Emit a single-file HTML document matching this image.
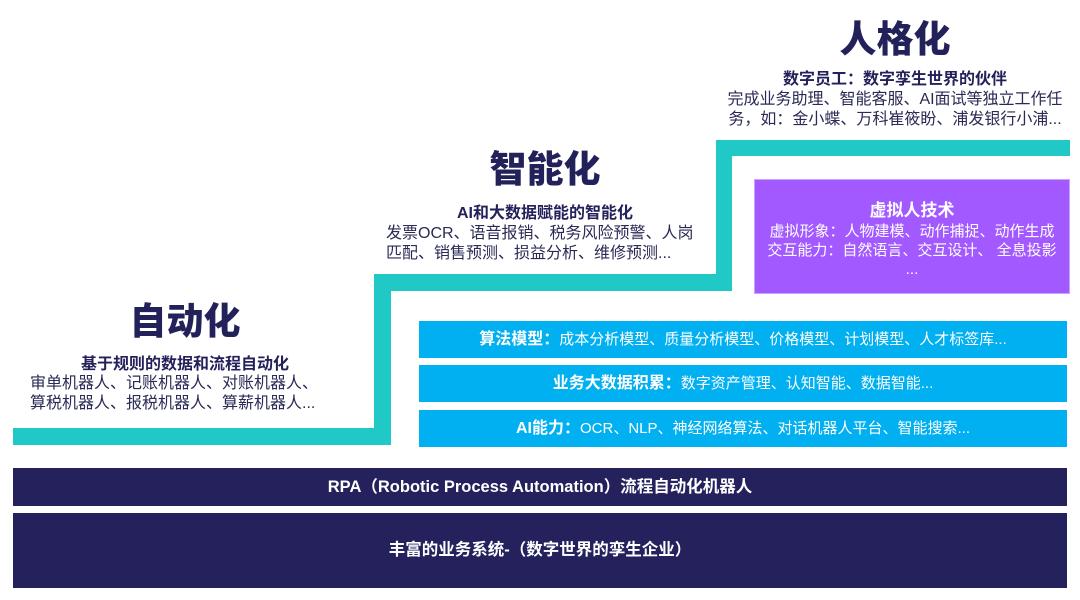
<!DOCTYPE html>
<html><head><meta charset="utf-8"><style>
body{margin:0;width:1080px;height:600px;background:#fff;position:relative;overflow:hidden;font-family:"Liberation Sans","Noto Sans CJK SC",sans-serif;color:#2a2a55}
div{position:absolute;box-sizing:border-box}
.t{background:#20c8c6}
.h{font-weight:900;color:#23215a;font-size:37px;text-align:center;line-height:40px}
.s{font-weight:700;color:#23215a;font-size:16px;text-align:center;line-height:20px}
.d{font-size:16px;color:#2a2a55;line-height:20px;text-align:center;white-space:nowrap}
.b{background:#00b0f0;color:#fff;font-size:15px;text-align:center;line-height:37px;left:419px;width:648px;height:37px}
.b b{font-size:16px}
.k{background:#24215c;color:#fff;font-weight:700;font-size:16.5px;text-align:center;left:13px;width:1054px}
</style></head><body>
<div class="t" style="left:13px;top:428px;width:378px;height:17px"></div>
<div class="t" style="left:374px;top:274px;width:17px;height:171px"></div>
<div class="t" style="left:374px;top:274px;width:358px;height:17px"></div>
<div class="t" style="left:716px;top:140px;width:16px;height:151px"></div>
<div class="t" style="left:716px;top:140px;width:354px;height:16px"></div>

<div class="h" style="left:60px;top:302px;width:250px">自动化</div>
<div class="s" style="left:30px;top:355px;width:310px">基于规则的数据和流程自动化</div>
<div class="d" style="left:30px;top:374px;width:300px;text-align:left">审单机器人、记账机器人、对账机器人、<br>算税机器人、报税机器人、算薪机器人...</div>

<div class="h" style="left:420px;top:150px;width:250px">智能化</div>
<div class="s" style="left:390px;top:204px;width:310px">AI和大数据赋能的智能化</div>
<div class="d" style="left:386px;top:224px;width:330px;text-align:left">发票OCR、语音报销、税务风险预警、人岗<br>匹配、销售预测、损益分析、维修预测...</div>

<div class="h" style="left:770px;top:20px;width:250px">人格化</div>
<div class="s" style="left:740px;top:70px;width:310px">数字员工：数字孪生世界的伙伴</div>
<div class="d" style="left:720px;top:90px;width:350px">完成业务助理、智能客服、AI面试等独立工作任<br>务，如：金小蝶、万科崔筱盼、浦发银行小浦...</div>

<div style="left:754px;top:179px;width:316px;height:115px;background:#a259ff;border:1px solid #c9a3ff;color:#fff;text-align:center">
<div style="position:static;font-weight:700;font-size:17px;margin-top:20px;line-height:22px">虚拟人技术</div>
<div style="position:static;font-size:15px;line-height:19px;white-space:nowrap">虚拟形象：人物建模、动作捕捉、动作生成<br>交互能力：自然语言、交互设计、 全息投影<br>...</div></div>

<div class="b" style="top:321px"><b>算法模型：</b>成本分析模型、质量分析模型、价格模型、计划模型、人才标签库...</div>
<div class="b" style="top:365px"><b>业务大数据积累：</b>数字资产管理、认知智能、数据智能...</div>
<div class="b" style="top:410px"><b>AI能力：</b>OCR、NLP、神经网络算法、对话机器人平台、智能搜索...</div>

<div class="k" style="top:468px;height:38px;line-height:38px">RPA（Robotic Process Automation）流程自动化机器人</div>
<div class="k" style="top:513px;height:75px;line-height:75px">丰富的业务系统-（数字世界的孪生企业）</div>
</body></html>
